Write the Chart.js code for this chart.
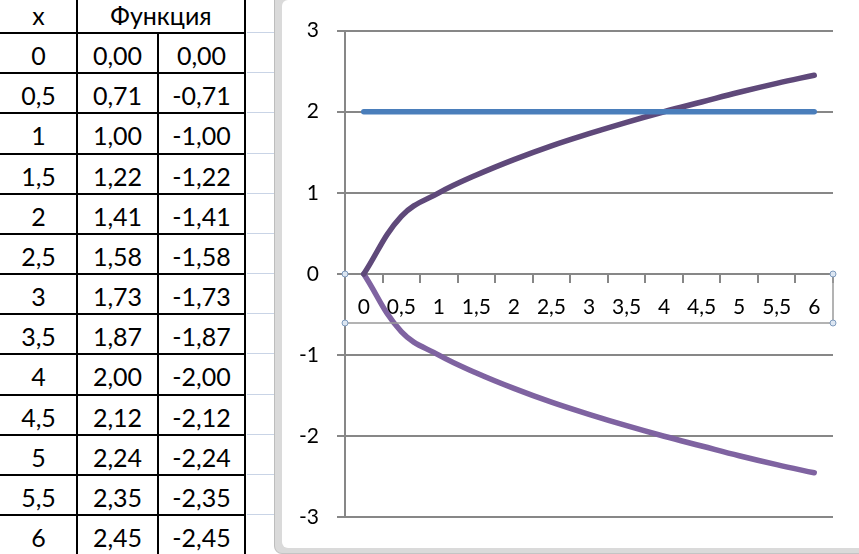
<!DOCTYPE html>
<html>
<head>
<meta charset="utf-8">
<script src="https://cdn.jsdelivr.net/npm/chart.js@4"></script>
<style>
  body { margin: 0; width: 859px; height: 554px; overflow: hidden; background: #fff; position: relative; font-family: Lato, "Open Sans", sans-serif; }
  .cell { position: absolute; text-align: center; font-size: 25px; color: #000; }
  .hl { position: absolute; height: 2px; background: #000; }
  .vl { position: absolute; width: 2px; background: #000; }
  .gl { position: absolute; height: 1px; background: #c9d4e6; left: 247px; width: 28px; }
  #frame { position: absolute; left: 274px; top: -10px; width: 620px; height: 563px; background: #dadada; border-left: 1px solid #bdbdbd; border-bottom: 1px solid #c4c4c4; border-radius: 8px; }
  #inner { position: absolute; left: 7px; top: 10px; width: 600px; height: 548px; background: #fff; border-radius: 6px; }
  #salesChart { position: absolute; left: 0; top: 0; }
</style>
</head>
<body>
<div id="sheet"></div>
<div id="frame"><div id="inner"><canvas id="salesChart" width="571" height="548"></canvas></div></div>
<script>
// Данные графика
const xLabels = ['0', '0,5', '1', '1,5', '2', '2,5', '3', '3,5', '4', '4,5', '5', '5,5', '6'];
const lineTwo = [2, 2, 2, 2, 2, 2, 2, 2, 2, 2, 2, 2, 2];
const rootPos = [0, 0.71, 1, 1.22, 1.41, 1.58, 1.73, 1.87, 2, 2.12, 2.24, 2.35, 2.45];
const rootNeg = [0, -0.71, -1, -1.22, -1.41, -1.58, -1.73, -1.87, -2, -2.12, -2.24, -2.35, -2.45];
const yTicks = [-3, -2, -1, 0, 1, 2, 3];

// Таблица слева (как в листе Excel)
const sheet = document.getElementById('sheet');
const rowH = 40.17, headTop = 33;
const cols = [[0, 77], [77, 158], [158, 245]];
function fmt(v) {
    return v.toFixed(2).replace('.', ',');
}
function addCell(text, x0, x1, y0) {
    const d = document.createElement('div');
    d.className = 'cell';
    d.style.left = x0 + 'px';
    d.style.width = (x1 - x0) + 'px';
    d.style.top = (y0 + 7) + 'px';
    d.textContent = text;
    sheet.appendChild(d);
}
addCell('x', 0, 77, -7);
addCell('Функция', 77, 245, -7);
xLabels.forEach((lab, i) => {
    const y0 = headTop + i * rowH;
    addCell(lab, cols[0][0], cols[0][1], y0);
    addCell(fmt(rootPos[i]), cols[1][0], cols[1][1], y0);
    addCell(fmt(rootNeg[i]), cols[2][0], cols[2][1], y0);
});
for (let i = 0; i <= xLabels.length; i++) {
    const y = Math.round(headTop + i * rowH) - 1;
    const h = document.createElement('div');
    h.className = 'hl';
    h.style.left = '0px';
    h.style.width = '246px';
    h.style.top = y + 'px';
    sheet.appendChild(h);
    const g = document.createElement('div');
    g.className = 'gl';
    g.style.top = y + 'px';
    sheet.appendChild(g);
}
[[76, 0], [244, 0], [157, headTop]].forEach(([x, top]) => {
    const v = document.createElement('div');
    v.className = 'vl';
    v.style.left = x + 'px';
    v.style.top = top + 'px';
    v.style.height = (554 - top) + 'px';
    if (x === 157) v.style.width = '1.5px';
    sheet.appendChild(v);
});

// Рамка выделения оси X (как в Excel)
const axisSelection = {
    id: 'axisSelection',
    afterDraw(chart) {
        const { ctx, scales: { x, y } } = chart;
        const top = y.getPixelForValue(0);
        const bottom = top + 49;
        ctx.save();
        ctx.strokeStyle = '#9a9a9a';
        ctx.lineWidth = 1.5;
        ctx.beginPath();
        ctx.moveTo(x.left, bottom);
        ctx.lineTo(x.right, bottom);
        ctx.moveTo(x.right, top);
        ctx.lineTo(x.right, bottom);
        ctx.stroke();
        [[x.left, top], [x.left, bottom], [x.right, top], [x.right, bottom]].forEach(([px, py]) => {
            ctx.beginPath();
            ctx.arc(px, py, 3, 0, Math.PI * 2);
            ctx.fillStyle = '#dce6f2';
            ctx.fill();
            ctx.lineWidth = 1;
            ctx.strokeStyle = '#7f9bbd';
            ctx.stroke();
        });
        ctx.restore();
    }
};

const gridGray = '#878787';
const ctx = document.getElementById('salesChart').getContext('2d');
const chart = new Chart(ctx, {
    type: 'line',
    data: {
        labels: xLabels,
        datasets: [
            { label: 'y = 2', data: lineTwo, borderColor: '#4a7ebb', borderWidth: 5.5, tension: 0 },
            { label: '√x', data: rootPos, borderColor: '#5f497a', borderWidth: 5.5, tension: 0.4 },
            { label: '-√x', data: rootNeg, borderColor: '#7f63a1', borderWidth: 5.5, tension: 0.4 }
        ]
    },
    options: {
        responsive: false,
        animation: false,
        layout: { padding: { left: 0, top: 28, right: 20, bottom: 28 } },
        elements: {
            point: { radius: 0 },
            line: { borderCapStyle: 'round', borderJoinStyle: 'round' }
        },
        plugins: {
            legend: { display: false },
            tooltip: { enabled: false }
        },
        scales: {
            x: {
                type: 'category',
                offset: true,
                position: { y: 0 },
                grid: { display: true, drawOnChartArea: false, drawTicks: true, tickLength: 8, offset: true, color: gridGray, lineWidth: 2 },
                border: { display: true, color: gridGray, width: 2 },
                ticks: { color: '#000', font: { family: 'Lato', size: 21 }, padding: 13, autoSkip: false, maxRotation: 0 }
            },
            y: {
                min: -3,
                max: 3,
                afterFit: s => { s.width = 63; },
                afterBuildTicks: s => { s.ticks = yTicks.map(v => ({ value: v })); },
                grid: { color: gridGray, lineWidth: 2, tickLength: 8 },
                border: { display: true, color: gridGray, width: 2 },
                ticks: { color: '#000', font: { family: 'Lato', size: 21 }, padding: 18, callback: v => String(v) }
            }
        }
    },
    plugins: [axisSelection]
});
</script>
</body>
</html>
